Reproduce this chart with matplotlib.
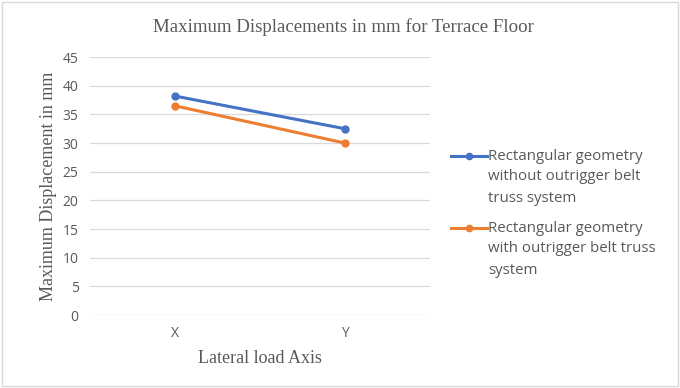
import matplotlib.pyplot as plt
from matplotlib.patches import Rectangle
from matplotlib.lines import Line2D

categories = ['X', 'Y']
without_belt = [38.2, 32.5]
with_belt = [36.5, 30.0]
labels = [['Rectangular geometry', 'without outrigger belt', 'truss system'],
          ['Rectangular geometry', 'with outrigger belt truss', 'system']]
colors = ['#4472c4', '#ed7d31']
yticks = [0, 5, 10, 15, 20, 25, 30, 35, 40, 45]

W, H = 680, 388
fig = plt.figure(figsize=(6.8, 3.88), dpi=100)
fig.patches.append(Rectangle((0.003, 0.005), 0.994, 0.99, transform=fig.transFigure,
                             fill=False, edgecolor='#d9d9d9', linewidth=1.0))
ax = fig.add_axes([0.132, 0.188, 0.5, 0.665])

xs = range(len(categories))
for vals, c in zip([without_belt, with_belt], colors):
    ax.plot(xs, vals, color=c, linewidth=2.2, marker='o', markersize=5)

ax.set_xlim(-0.5, 1.5)
ax.set_ylim(0, 45)
ax.set_yticks(yticks)
ax.set_xticks(list(xs))
ax.set_xticklabels(categories)
ax.grid(axis='y', color='#d9d9d9', linewidth=0.9)
ax.set_axisbelow(True)
for s in ax.spines.values():
    s.set_visible(False)
ax.tick_params(axis='both', length=0, labelsize=10, labelcolor='#595959',
               pad=8)
for t in ax.get_yticklabels() + ax.get_xticklabels():
    t.set_fontfamily('Open Sans')

fig.text(343 / W, 1 - 27 / H, 'Maximum Displacements in mm for Terrace Floor',
         fontfamily='Liberation Serif', fontsize=13.6, color='#595959',
         ha='center', va='center')
ax.set_xlabel('Lateral load Axis', fontfamily='Liberation Serif', fontsize=13,
              color='#595959', labelpad=6)
ax.set_ylabel('Maximum Displacement in mm', fontfamily='Liberation Serif', fontsize=13,
              color='#595959', labelpad=4)

# legend drawn by hand so the key sits on the first text line, as in Excel
for i, (lines, c) in enumerate(zip(labels, colors)):
    y0 = 156 + i * 72
    fig.add_artist(Line2D([451 / W, 487 / W], [1 - y0 / H, 1 - y0 / H],
                          transform=fig.transFigure, color=c, linewidth=2.2))
    fig.add_artist(Line2D([469 / W], [1 - y0 / H], transform=fig.transFigure,
                          color=c, marker='o', markersize=4.5))
    for j, line in enumerate(lines):
        fig.text(488 / W, 1 - (y0 + j * 21) / H, line, fontfamily='Open Sans',
                 fontsize=10.8, color='#595959', ha='left', va='center')

fig.savefig('out.png', dpi=100)
